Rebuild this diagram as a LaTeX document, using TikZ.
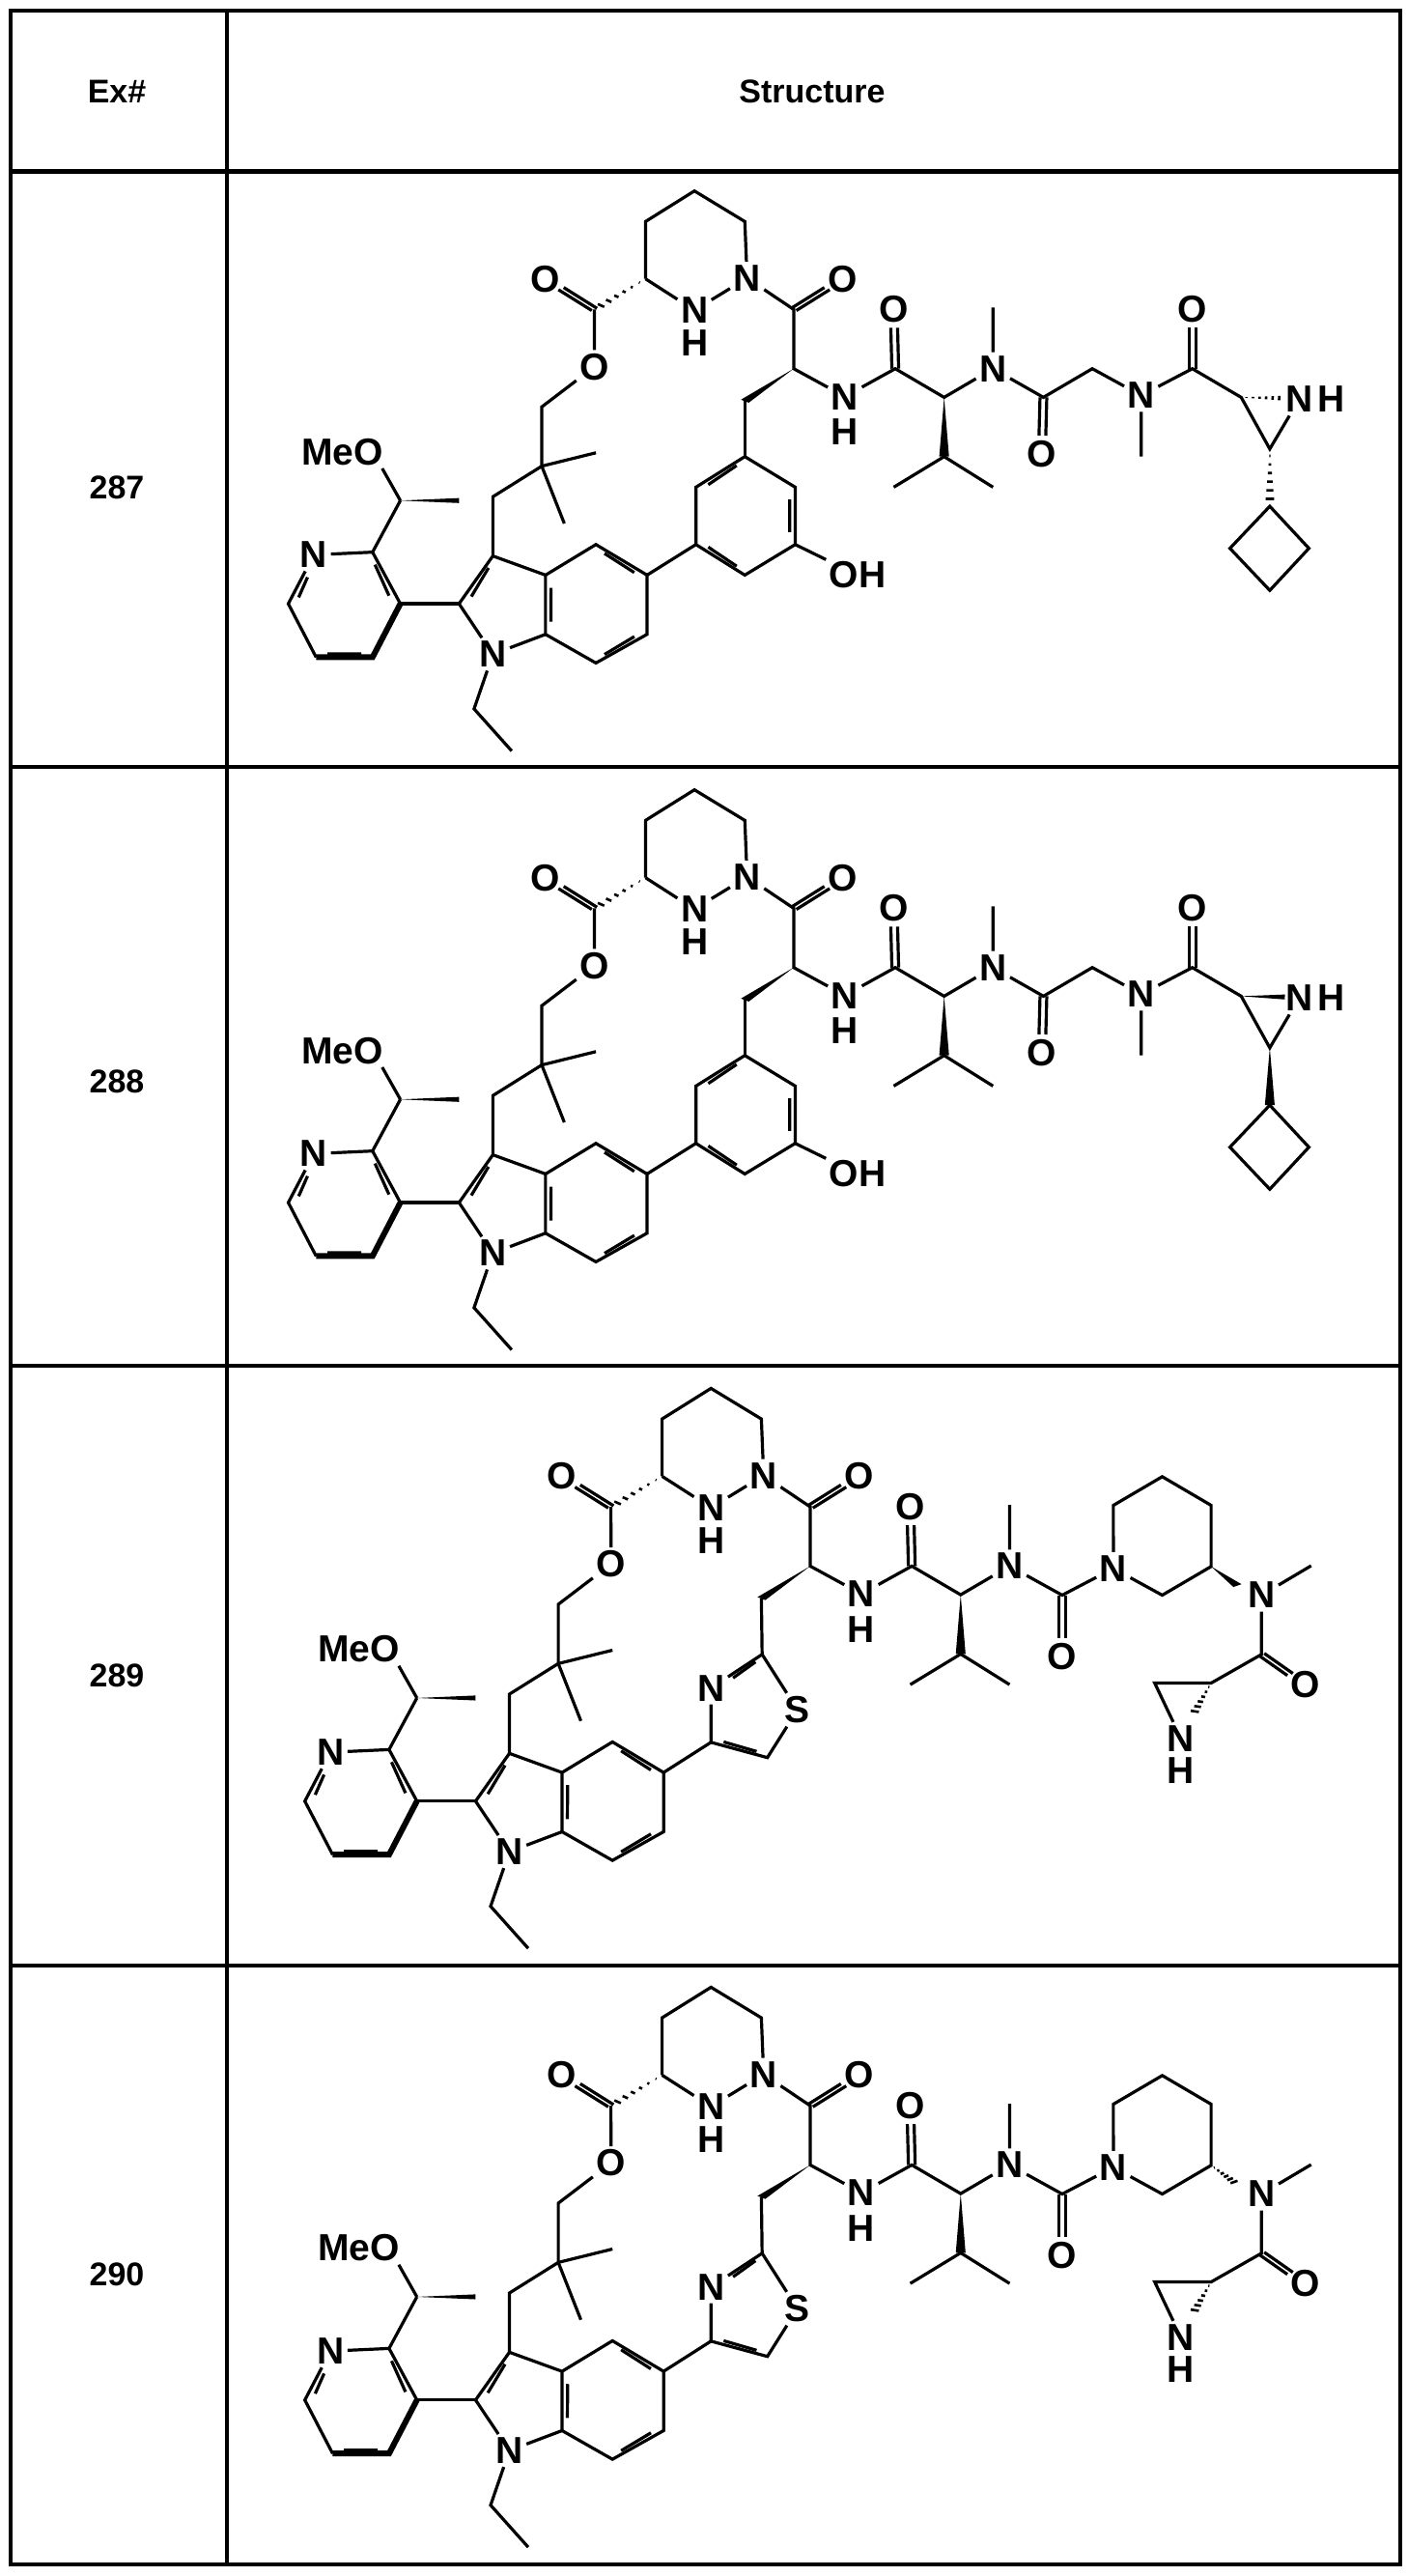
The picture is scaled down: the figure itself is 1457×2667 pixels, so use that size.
\documentclass[tikz,border=0pt]{standalone}
\usepackage{fontspec}
\setmainfont{Liberation Sans}
\usetikzlibrary{calc}
\tikzset{atom/.style={font=\fontsize{39}{42}\selectfont\bfseries, inner sep=2pt},
 hdr/.style={font=\fontsize{34}{38}\selectfont\bfseries},
 grid/.style={line width=3.5pt}}
\newcommand\wdg[2]{\fill (#1) -- ($(#2)!6.5pt!90:(#1)$) -- ($(#2)!6.5pt!-90:(#1)$) -- cycle;}
\newcommand\hsh[2]{\foreach \t in {0.12,0.27,...,0.98}{\path ($(#1)!\t!(#2)$) coordinate (hm);
 \draw[line width=2.6pt] ($(hm)!{\t*6.5pt}!90:(#2)$) -- ($(hm)!{\t*6.5pt}!-90:(#2)$);}}
\newcommand\dbl[2]{\draw[shorten >=19pt] ($(#1)!4.5pt!90:(#2)$) -- ($(#2)!4.5pt!-90:(#1)$);
 \draw[shorten >=19pt] ($(#1)!4.5pt!-90:(#2)$) -- ($(#2)!4.5pt!90:(#1)$);}
\newcommand\innx[5]{\path ($(#1)!#4!(#2)$) coordinate (ia); \path ($(#1)!#5!(#2)$) coordinate (ib);
 \draw ($(ia)!9pt!(#3)$) -- ($(ib)!9pt!(#3)$);}
\newcommand\inn[3]{\innx{#1}{#2}{#3}{0.18}{0.82}}
\newcommand\core{%
\coordinate (py2) at (200,1015); \coordinate (py3) at (237,1150); \coordinate (py4) at (200,1290);
\coordinate (py5) at (125,1290); \coordinate (py6) at (88,1150);
\coordinate (ch) at (237,880); \coordinate (me1) at (315,880);
\coordinate (i2) at (315,1150); \coordinate (i3) at (360,1025); \coordinate (i3a) at (430,1075);
\coordinate (i4) at (497,995); \coordinate (i5) at (565,1075); \coordinate (i6) at (565,1230);
\coordinate (i7) at (497,1305); \coordinate (i7a) at (430,1230);
\coordinate (et1) at (335,1425); \coordinate (et2) at (385,1535);
\coordinate (l1) at (360,870); \coordinate (q) at (425,790); \coordinate (qm1) at (497,755);
\coordinate (qm2) at (455,940); \coordinate (l2) at (425,635);
\coordinate (estC) at (495,380); \coordinate (pz3) at (563,300); \coordinate (pz4) at (563,150);
\coordinate (pz5) at (628,70); \coordinate (pz6) at (695,150);
\coordinate (ac) at (760,380); \coordinate (ca) at (760,535); \coordinate (cb) at (695,620);
\coordinate (vc) at (895,535); \coordinate (va) at (960,610); \coordinate (vme) at (1025,375);
\coordinate (vb) at (960,765); \coordinate (vg1) at (893,845); \coordinate (vg2) at (1025,845);
\coordinate (cpy) at (162,1150); \coordinate (c5) at (379,1152); \coordinate (c6) at (497,1150);
\node[atom] (pyN) at (122,1022) {N};
\node[atom] (meo) at (160,752) {MeO};
\node[atom] (indN) at (360,1282) {N};
\node[atom] (estO) at (495,530) {O};
\node[atom] (o1) at (430,300) {O};
\node[atom] (pzN1) at (698,298) {N};
\node[atom] (pzN2) at (628,382) {N};
\node[atom] (pzH) at (628,468) {H};
\node[atom] (amO) at (825,300) {O};
\node[atom] (nh1) at (828,608) {N};
\node[atom] (nh1H) at (828,700) {H};
\node[atom] (valO) at (893,380) {O};
\node[atom] (valN) at (1025,535) {N};
\draw (pyN) -- (py2) -- (py3); \draw[line width=6pt] (py3) -- (py4) -- (py5);
\draw (py5) -- (py6) -- (pyN);
\inn{py2}{py3}{cpy} \inn{py4}{py5}{cpy} \innx{py6}{pyN}{cpy}{0.15}{0.6}
\draw (py2) -- (ch); \draw (ch) -- ([xshift=-6pt]meo.south east);
\wdg{ch}{me1}
\draw (py3) -- (i2);
\draw (i2) -- (i3) -- (i3a) -- (i4) -- (i5) -- (i6) -- (i7) -- (i7a) -- (i3a);
\draw (i7a) -- (indN) -- (i2);
\inn{i2}{i3}{c5} \inn{i3a}{i7a}{c6} \inn{i4}{i5}{c6} \inn{i6}{i7}{c6}
\draw (indN) -- (et1) -- (et2);
\draw (i3) -- (l1) -- (q) -- (l2) -- (estO) -- (estC);
\draw (q) -- (qm1); \draw (q) -- (qm2);
\dbl{estC}{o1}
\hsh{pz3}{estC}
\draw (pz3) -- (pz4) -- (pz5) -- (pz6) -- (pzN1) -- (pzN2) -- (pz3);
\draw (pzN1) -- (ac) -- (ca) -- (nh1) -- (vc) -- (va) -- (valN) -- (vme);
\dbl{ac}{amO} \dbl{vc}{valO}
\wdg{ca}{cb} \wdg{va}{vb}
\draw (vg1) -- (vb) -- (vg2);
}
\newcommand\tailA[1]{%
\coordinate (ar1) at (695,765); \coordinate (ar2) at (762,845); \coordinate (ar3) at (762,995);
\coordinate (ar4) at (695,1075); \coordinate (ar5) at (630,995); \coordinate (ar6) at (630,845);
\coordinate (car) at (696,920);
\coordinate (gc) at (1092,610); \coordinate (gch) at (1157,535); \coordinate (gme) at (1222,765);
\coordinate (ac2) at (1290,535); \coordinate (az2) at (1355,610); \coordinate (az3) at (1393,745);
\coordinate (azE) at (1413,612);
\coordinate (cy1) at (1393,895); \coordinate (cy2) at (1445,1005); \coordinate (cy3) at (1393,1115);
\coordinate (cy4) at (1340,1005);
\node[atom] (oh) at (845,1075) {OH};
\node[atom] (gO) at (1090,758) {O};
\node[atom] (gN) at (1222,605) {N};
\node[atom] (aO) at (1290,378) {O};
\node[atom] (azN) at (1432,615) {N};
\node[atom, anchor=west, inner sep=0pt] (azH) at (azN.east) {H};
\draw (cb) -- (ar1);
\draw (ar1) -- (ar2) -- (ar3) -- (ar4) -- (ar5) -- (ar6) -- cycle;
\draw (ar5) -- (i5); \draw (ar3) -- (oh);
\inn{ar1}{ar6}{car} \inn{ar4}{ar5}{car} \inn{ar2}{ar3}{car}
\draw (valN) -- (gc) -- (gch) -- (gN) -- (ac2) -- (az2) -- (az3) -- (azN);
\draw (gN) -- (gme);
\dbl{gc}{gO} \dbl{ac2}{aO}
#1{az2}{azE}
#1{az3}{cy1}
\draw (cy1) -- (cy2) -- (cy3) -- (cy4) -- cycle;
}
\newcommand\tailB[1]{%
\coordinate (tz2) at (718,740); \coordinate (tz4) at (650,970); \coordinate (tz5) at (725,1010);
\coordinate (ctz) at (700,885);
\coordinate (uc) at (1117,585); \coordinate (p2) at (1250,585); \coordinate (p3) at (1315,510);
\coordinate (p4) at (1315,350); \coordinate (p5) at (1250,275); \coordinate (p6) at (1185,350);
\coordinate (aNe) at (1350,560); \coordinate (ame) at (1448,508); \coordinate (ac3) at (1382,740);
\coordinate (az) at (1315,815); \coordinate (azL) at (1240,815); \coordinate (azNe) at (1290,900);
\node[atom] (tzN) at (650,828) {N};
\node[atom] (tzS) at (765,885) {S};
\node[atom] (uO) at (1117,745) {O};
\node[atom] (pN) at (1185,515) {N};
\node[atom] (aN) at (1382,585) {N};
\node[atom] (aO3) at (1440,820) {O};
\node[atom] (azNb) at (1275,960) {N};
\node[atom] (azHb) at (1275,1045) {H};
\draw (cb) -- (tz2) -- (tzN) -- (tz4) -- (tz5) -- (tzS) -- (tz2);
\draw (tz4) -- (i5);
\innx{tz2}{tzN}{ctz}{0.12}{0.6} \inn{tz4}{tz5}{ctz}
\draw (valN) -- (uc) -- (pN) -- (p6) -- (p5) -- (p4) -- (p3) -- (p2) -- (pN);
\dbl{uc}{uO}
#1{p3}{aNe}
\draw (aN) -- (ame); \draw (aN) -- (ac3) -- (az) -- (azL) -- (azNb);
\dbl{ac3}{aO3}
\hsh{az}{azNe}
}
\begin{document}
\begin{tikzpicture}[x=1pt,y=-1pt,line width=3.2pt]
\useasboundingbox (0,0) rectangle (1457,2667);
\fill[white] (0,0) rectangle (1457,2667);
\draw[grid] (11,11) rectangle (1450,2655);
\draw[grid] (235,11) -- (235,2655);
\draw[line width=5pt] (11,177) -- (1450,177);
\draw[grid] (11,794) -- (1450,794);
\draw[grid] (11,1414) -- (1450,1414);
\draw[grid] (11,2035) -- (1450,2035);
\node[hdr] (hex) at (121,95) {Ex\#};
\node[hdr] (hst) at (841,95) {Structure};
\node[hdr] (r1) at (121,505) {287};
\node[hdr] (r2) at (121,1120) {288};
\node[hdr] (r3) at (121,1735) {289};
\node[hdr] (r4) at (121,2355) {290};
\begin{scope}[shift={(230,170)},xscale=0.7788,yscale=0.3957]
\core \tailA{\hsh}
\end{scope}
\begin{scope}[shift={(230,790)},xscale=0.7788,yscale=0.3957]
\core \tailA{\wdg}
\end{scope}
\begin{scope}[shift={(230,1420)},xscale=0.7788,yscale=0.3957]
\begin{scope}[shift={(22,-26)}]\core\end{scope}
\tailB{\wdg}
\end{scope}
\begin{scope}[shift={(230,2040)},xscale=0.7788,yscale=0.3957]
\begin{scope}[shift={(22,-26)}]\core\end{scope}
\tailB{\hsh}
\end{scope}
\end{tikzpicture}
\end{document}
